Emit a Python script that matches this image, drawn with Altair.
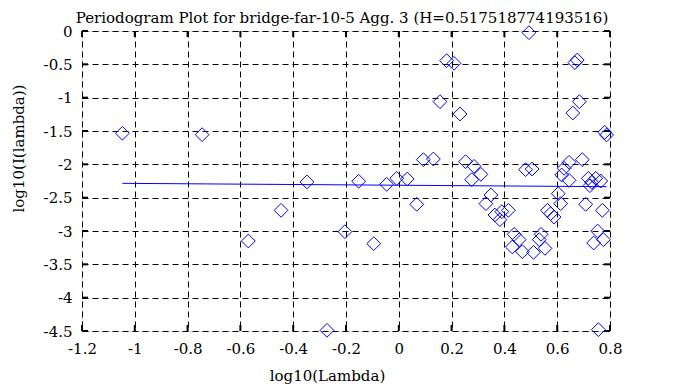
import altair as alt
import pandas as pd

# data
log_lambda = [-1.047, -0.745, -0.570, -0.446, -0.348, -0.272, -0.204, -0.152, -0.095, -0.046,
              -0.008, 0.032, 0.068, 0.093, 0.131, 0.156, 0.181, 0.209, 0.232, 0.253,
              0.276, 0.285, 0.311, 0.330, 0.349, 0.364, 0.383, 0.390, 0.415, 0.430,
              0.437, 0.456, 0.468, 0.480, 0.493, 0.505, 0.510, 0.532, 0.539, 0.554,
              0.563, 0.575, 0.588, 0.604, 0.613, 0.617, 0.626, 0.645, 0.645, 0.659,
              0.667, 0.676, 0.684, 0.695, 0.708, 0.718, 0.724, 0.731, 0.738, 0.746,
              0.753, 0.756, 0.765, 0.771, 0.775, 0.780, 0.787]
log_I = [-1.534, -1.555, -3.15, -2.69, -2.264, -4.49, -3.01, -2.254, -3.19, -2.30,
         -2.21, -2.22, -2.60, -1.93, -1.92, -1.06, -0.445, -0.485, -1.245, -1.96,
         -2.23, -2.03, -2.15, -2.59, -2.46, -2.76, -2.83, -2.71, -2.69, -3.24,
         -3.05, -3.13, -3.31, -2.08, -0.025, -2.07, -3.32, -3.13, -3.05, -3.26,
         -2.69, -2.74, -2.79, -2.44, -2.59, -2.16, -2.06, -1.97, -2.24, -1.23,
         -0.475, -0.435, -1.06, -1.93, -2.60, -2.21, -2.32, -2.27, -3.18, -2.21,
         -3.00, -4.48, -2.25, -2.69, -3.13, -1.52, -1.56]

fit_x = [-1.047, 0.787]
fit_y = [-2.285, -2.335]

x_ticks = [-1.2, -1, -0.8, -0.6, -0.4, -0.2, 0, 0.2, 0.4, 0.6, 0.8]
y_ticks = [0, -0.5, -1, -1.5, -2, -2.5, -3, -3.5, -4, -4.5]

title = "Periodogram Plot for bridge-far-10-5 Agg. 3 (H=0.517518774193516)"
FONT = "DejaVu Serif"
FS = 15
W, H = 528, 300

pts = pd.DataFrame({"x": log_lambda, "y": log_I})
fit = pd.DataFrame({"x": fit_x, "y": fit_y})
xt = pd.DataFrame({"t": x_ticks})
yt = pd.DataFrame({"t": y_ticks})

xscale = alt.Scale(domain=[-1.2, 0.8], nice=False, zero=False)
yscale = alt.Scale(domain=[-4.5, 0], nice=False, zero=False)

xaxis = alt.Axis(values=x_ticks, title="log10(Lambda)", labelPadding=10,
                 titleX=245, titleY=49, titleBaseline="alphabetic", titleAlign="center")
yaxis = alt.Axis(values=y_ticks, title="log10(I(lambda))", labelPadding=10,
                 titleX=-56, titleY=117, titleBaseline="bottom", titleAlign="center",
                 titleAngle=270)

X = lambda f: alt.X(f, scale=xscale, axis=xaxis)
Y = lambda f: alt.Y(f, scale=yscale, axis=yaxis)

points = alt.Chart(pts).mark_point(shape="diamond", size=190, color="#0000ff",
                                   strokeWidth=1, filled=False, opacity=1).encode(
    x=X("x:Q"), y=Y("y:Q"),
)

line = alt.Chart(fit).mark_line(color="#0000ff", strokeWidth=1).encode(
    x=X("x:Q"), y=Y("y:Q"),
)

tick_style = dict(color="black", strokeWidth=2)
bottom = alt.Chart(xt).mark_rule(**tick_style).encode(
    x=X("t:Q"), y=alt.value(H), y2=alt.value(H - 6))
top = alt.Chart(xt).mark_rule(**tick_style).encode(
    x=X("t:Q"), y=alt.value(0), y2=alt.value(6))
left = alt.Chart(yt).mark_rule(**tick_style).encode(
    y=Y("t:Q"), x=alt.value(0), x2=alt.value(6))
right = alt.Chart(yt).mark_rule(**tick_style).encode(
    y=Y("t:Q"), x=alt.value(W), x2=alt.value(W - 6))

chart = alt.layer(bottom, top, left, right, line, points).properties(
    width=W, height=H,
    title=alt.TitleParams(title, font=FONT, fontSize=15, fontWeight="normal",
                          color="black", offset=0, anchor="middle", dx=-4, dy=2),
    autosize=alt.AutoSizeParams(type="none"),
    padding={"left": 74, "top": 23, "right": 60, "bottom": 55},
).configure_view(stroke="black", strokeWidth=2).configure(
    background="white"
).configure_axis(
    grid=True, gridDash=[6, 4], gridColor="black", gridOpacity=1, gridWidth=1,
    domain=False, ticks=False, labelOverlap=False, labelBound=False, labelFlush=False,
    labelExpr="'' + datum.value",
    labelFont=FONT, labelFontSize=FS, labelColor="black",
    titleFont=FONT, titleFontSize=FS, titleFontWeight="normal", titleColor="black",
)

chart.save("out.html", embed_options={"renderer": "svg", "actions": False})
